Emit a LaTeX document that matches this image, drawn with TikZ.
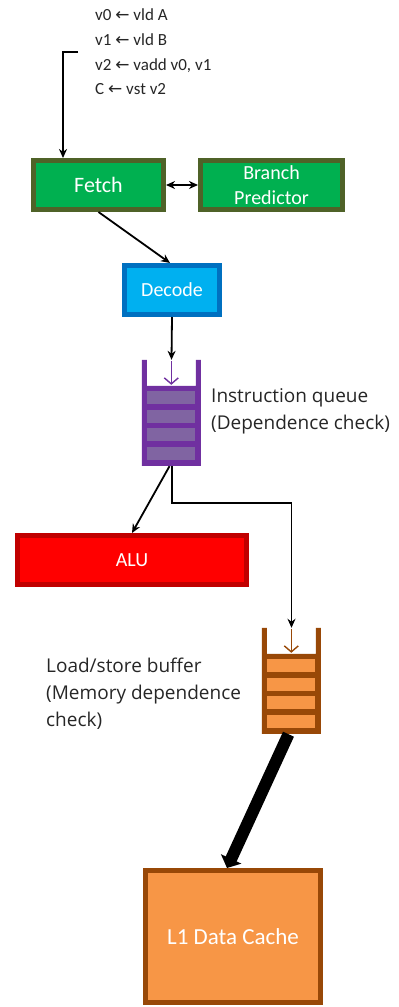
\documentclass[tikz,border=0pt]{standalone}
\usepackage{fontspec}
\setmainfont{Carlito}
\newfontfamily\labelfont{Open Sans}
\newfontfamily\arrowfont{DejaVu Sans}
\usetikzlibrary{positioning, arrows.meta}

\definecolor{fetchfill}{HTML}{00B050}
\definecolor{fetchborder}{HTML}{4F6228}
\definecolor{decodefill}{HTML}{00B0F0}
\definecolor{decodeborder}{HTML}{0070C0}
\definecolor{alufill}{HTML}{FF0000}
\definecolor{aluborder}{HTML}{C00000}
\definecolor{iqborder}{HTML}{7030A0}
\definecolor{iqslot}{HTML}{8064A2}
\definecolor{lsqfill}{HTML}{F79646}
\definecolor{lsqborder}{HTML}{984807}
\definecolor{labeltext}{HTML}{262626}

\newcommand{\la}{{\arrowfont\fontsize{17}{17}\selectfont ←}}

\begin{document}
\begin{tikzpicture}[x=1pt, y=-1pt, >={Stealth[length=9pt, width=8pt]},
  unit/.style = {draw, line width=5pt, text=white, inner sep=0pt,
    font=\fontsize{20}{25}\selectfont, align=center},
  wire/.style = {line width=1.8pt, ->},
  note/.style = {text=labeltext, inner sep=0pt, align=left,
    font=\labelfont\fontsize{19}{27}\selectfont},
  holder/.style = {inner sep=0pt, minimum width=59pt, minimum height=106pt}]
\useasboundingbox (0,0) rectangle (399,1007);

% the code
\node[text=labeltext, inner sep=0pt, align=left, anchor=west,
  font=\fontsize{17}{24.7}\selectfont] (code) at (95,52)
  {v0 \la{} vld A\\ v1 \la{} vld B\\ v2 \la{} vadd v0, v1\\ C \la{} vst v2};
\coordinate (codestart) at (78,52);

% front end
\node[unit, fill=fetchfill, draw=fetchborder, minimum width=130pt, minimum height=49pt,
  font=\fontsize{22}{25}\selectfont] (fetch) at (98.5,185) {Fetch};
\node[unit, fill=fetchfill, draw=fetchborder, minimum width=142pt, minimum height=49pt]
  (bp) at (271.5,185) {Branch\\Predictor};
\node[unit, fill=decodefill, draw=decodeborder, minimum width=95pt, minimum height=49pt]
  (decode) at (172,290) {Decode};

% queues
\node[holder] (iq) at (171.5,413) {};
\node[holder] (lsq) at (291.5,681) {};
\foreach \q/\bc/\sc in {iq/iqborder/iqslot, lsq/lsqborder/lsqfill} {
  \begin{scope}[shift={(\q.north west)}]
    \fill[\bc] (0,0) rectangle (5,106) (54,0) rectangle (59,106) (0,26) rectangle (59,106);
    \foreach \i in {0,...,3}
      \fill[\sc] (5.5,31+18.7*\i) rectangle (53.5,44+18.7*\i);
    \draw[\bc, line width=1.4pt, -{Straight Barb[length=6pt, width=14pt]}] (29.5,1) -- (29.5,25);
  \end{scope}
}
\node[note, anchor=west] (iqlabel) at (211,411.5) {Instruction queue\\(Dependence check)};
\node[note, anchor=west] (lsqlabel) at (46,694) {Load/store buffer\\(Memory dependence\\check)};

% back end
\node[unit, fill=alufill, draw=aluborder, minimum width=229pt, minimum height=49pt]
  (alu) at (132,560) {ALU};
\node[unit, fill=lsqfill, draw=lsqborder, minimum width=175pt, minimum height=132pt,
  font=\fontsize{23}{25}\selectfont] (cache) at (233,936.5) {L1 Data Cache};

% connectors
\draw[wire] (codestart) -| ([xshift=-35.5pt]fetch.north);
\draw[wire, <->] (fetch) -- (bp);
\draw[wire] (fetch.south) -- ([xshift=-2pt]decode.north);
\draw[wire] (decode.south) -- (iq.north);
\draw[wire] ([xshift=-2pt]iq.south) -- (alu.north);
\draw[wire] ([xshift=0.5pt]iq.south) -- ++(0,37) -| (lsq.north);
\draw[line width=12pt, -{Triangle[length=10pt, width=22pt]}] ([xshift=-3pt]lsq.south) -- ([xshift=-6pt]cache.north);
\end{tikzpicture}
\end{document}
